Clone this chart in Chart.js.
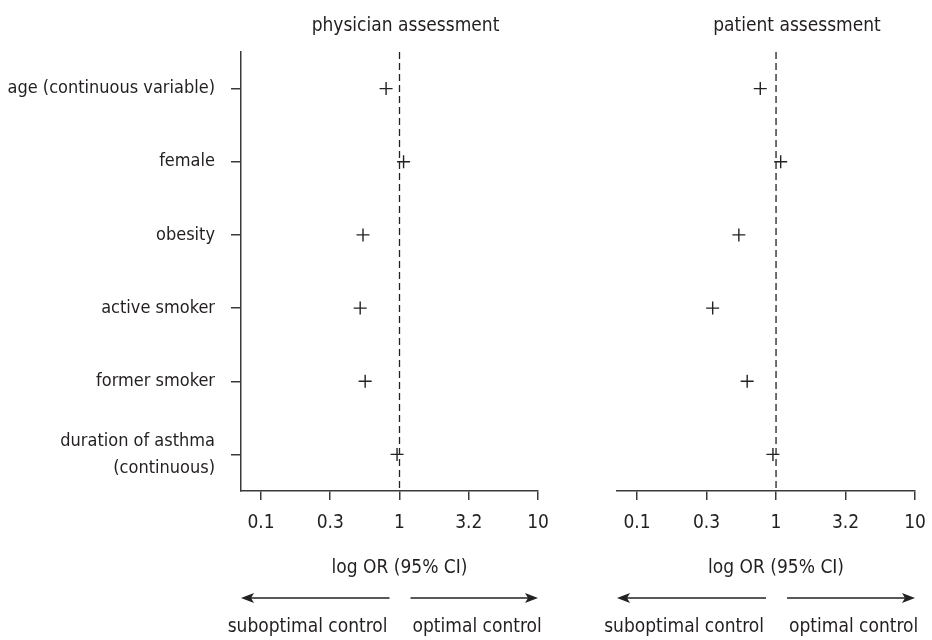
<!DOCTYPE html>
<html>
<head>
<meta charset="utf-8">
<script src="https://cdn.jsdelivr.net/npm/chart.js@4.4.0/dist/chart.umd.min.js"></script>
<style>
  body { margin: 0; background: #fff; }
  #wrap { position: relative; width: 932px; height: 640px; }
  .painel { position: absolute; top: 0; height: 640px; }
  #esq { left: 0; width: 575px; }
  #dir { left: 575px; width: 357px; }
</style>
</head>
<body>
<div id="wrap">
  <div class="painel" id="esq"><canvas id="chartEsq"></canvas></div>
  <div class="painel" id="dir"><canvas id="chartDir"></canvas></div>
</div>
<script>
// dados
const categorias = [
  'age (continuous variable)',
  'female',
  'obesity',
  'active smoker',
  'former smoker',
  ['duration of asthma', '(continuous)']
];
const orMedico = [0.80, 1.07, 0.545, 0.52, 0.565, 0.96];
const orPaciente = [0.77, 1.08, 0.54, 0.35, 0.62, 0.95];

const ticksValores = [0.1, 0.316, 1, 3.162, 10];
const ticksRotulos = ['0.1', '0.3', '1', '3.2', '10'];
const titulosPaineis = ['physician assessment', 'patient assessment'];
const tituloEixo = 'log OR (95% CI)';
const rotulosDirecao = ['suboptimal control', 'optimal control'];
const linhaRef = 1;

const FONTE = '"DejaVu Sans Condensed", "Liberation Sans Narrow", sans-serif';
const TAM = 19;
const COR_TEXTO = '#231f20';
const COR_LINHA = '#3a3a3a';

Chart.defaults.font.family = FONTE;
Chart.defaults.font.size = TAM;
Chart.defaults.color = COR_TEXTO;

function seta(ctx, xIni, xFim, y) {
  const dir = xFim > xIni ? 1 : -1;
  ctx.beginPath();
  ctx.moveTo(xIni, y);
  ctx.lineTo(xFim - dir * 8, y);
  ctx.stroke();
  ctx.beginPath();
  ctx.moveTo(xFim, y);
  ctx.lineTo(xFim - dir * 13, y - 5);
  ctx.lineTo(xFim - dir * 10, y);
  ctx.lineTo(xFim - dir * 13, y + 5);
  ctx.closePath();
  ctx.fill();
}

const decoracao = {
  id: 'decoracao',
  afterDraw(chart, args, opts) {
    const { ctx, chartArea: area, scales } = chart;
    const x1 = scales.x.getPixelForValue(linhaRef);
    ctx.save();
    ctx.strokeStyle = '#222';
    ctx.lineWidth = 1.3;
    ctx.setLineDash([7, 4]);
    ctx.beginPath();
    ctx.moveTo(x1, area.top);
    ctx.lineTo(x1, area.bottom);
    ctx.stroke();
    ctx.setLineDash([]);

    ctx.font = TAM + 'px ' + FONTE;
    ctx.fillStyle = COR_TEXTO;
    ctx.textBaseline = 'alphabetic';
    ctx.textAlign = 'center';
    ctx.fillText(opts.titulo, (area.left + area.right) / 2 + opts.desvio, 31);
    ctx.fillText(tituloEixo, x1, 573);

    ctx.strokeStyle = '#222';
    ctx.fillStyle = '#222';
    ctx.lineWidth = 1.5;
    seta(ctx, x1 - 10, area.left, 598);
    seta(ctx, x1 + 11, area.right, 598);

    ctx.fillStyle = COR_TEXTO;
    ctx.textAlign = 'right';
    ctx.fillText(rotulosDirecao[0], x1 - 12, 632);
    ctx.textAlign = 'left';
    ctx.fillText(rotulosDirecao[1], x1 + 13, 632);
    ctx.restore();
  }
};

function criarPainel(canvasId, valores, titulo, desvio, mostrarY, padding) {
  const pontos = valores.map((v, i) => ({ x: v, y: i }));
  return new Chart(document.getElementById(canvasId), {
    type: 'scatter',
    data: {
      datasets: [{
        data: pontos,
        pointStyle: 'cross',
        pointRadius: 6.5,
        pointHoverRadius: 6.5,
        borderColor: '#222',
        borderWidth: 1.4,
        backgroundColor: '#222'
      }]
    },
    options: {
      responsive: true,
      maintainAspectRatio: false,
      animation: false,
      events: [],
      layout: { padding: padding },
      plugins: {
        legend: { display: false },
        tooltip: { enabled: false },
        decoracao: { titulo: titulo, desvio: desvio }
      },
      scales: {
        x: {
          type: 'logarithmic',
          min: 0.0717,
          max: 10,
          afterBuildTicks: (scale) => {
            scale.ticks = ticksValores.map(v => ({ value: v }));
          },
          afterFit: (scale) => {
            scale.height = 149;
            scale.paddingLeft = 0;
            scale.paddingRight = 0;
          },
          ticks: {
            autoSkip: false,
            maxRotation: 0,
            padding: 12,
            callback: (val) => {
              const i = ticksValores.indexOf(val);
              return i >= 0 ? ticksRotulos[i] : '';
            }
          },
          grid: { drawOnChartArea: false, drawTicks: true, tickLength: 9, color: COR_LINHA, lineWidth: 1.5 },
          border: { display: true, color: COR_LINHA, width: 1.5 }
        },
        y: {
          type: 'category',
          labels: categorias,
          offset: true,
          display: mostrarY,
          afterFit: (scale) => { if (mostrarY) scale.width = 241; },
          ticks: { padding: 16, autoSkip: false, font: { size: 18, lineHeight: 1.5 } },
          grid: { drawOnChartArea: false, drawTicks: true, tickLength: 10, color: COR_LINHA, lineWidth: 1.5, offset: false },
          border: { display: true, color: COR_LINHA, width: 1.5 }
        }
      }
    },
    plugins: [decoracao]
  });
}

criarPainel('chartEsq', orMedico, titulosPaineis[0], 16, true, { top: 52, right: 37, left: 0, bottom: 0 });
criarPainel('chartDir', orPaciente, titulosPaineis[1], 31, false, { top: 52, right: 17, left: 42, bottom: 0 });
</script>
</body>
</html>
